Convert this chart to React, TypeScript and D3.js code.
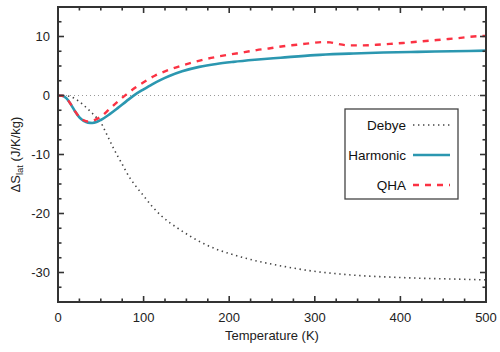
import React from "react";
import * as d3 from "d3";

// Temperature grids (K) and lattice entropy change (J/K/kg) for each model
const debyeT = [0, 5, 10, 15, 20, 25, 30, 35, 40, 45, 50, 55, 60, 65, 70, 75, 80, 85, 90, 100, 110, 120, 130, 140, 155, 170, 185, 205, 225, 245, 265, 285, 305, 325, 350, 375, 400, 430, 460, 500];
const debyeS = [0, 0, -0.05, -0.2, -0.55, -1.05, -1.65, -2.3, -3.0, -3.75, -4.55, -6.0, -7.5, -9.0, -10.35, -11.65, -13.0, -14.2, -15.2, -17.0, -18.8, -20.3, -21.5, -22.5, -23.9, -25.1, -26.05, -27.0, -27.8, -28.45, -29.0, -29.5, -29.9, -30.2, -30.5, -30.7, -30.85, -31.0, -31.1, -31.25];

const harmT = [0, 5, 10, 15, 20, 25, 30, 35, 40, 45, 50, 60, 70, 80, 90, 100, 110, 120, 130, 145, 165, 185, 205, 230, 260, 300, 340, 380, 420, 460, 500];
const harmS = [0, -0.05, -0.5, -1.5, -2.7, -3.7, -4.3, -4.6, -4.65, -4.5, -4.15, -3.2, -2.1, -0.95, 0.15, 1.05, 1.9, 2.65, 3.3, 4.1, 4.85, 5.35, 5.7, 6.05, 6.4, 6.85, 7.1, 7.3, 7.4, 7.5, 7.6];

const qhaT = [0, 5, 10, 15, 20, 25, 30, 35, 40, 45, 50, 60, 70, 80, 90, 100, 113, 127, 142, 156, 172, 187, 203, 218, 232, 248, 263, 279, 294, 310, 318, 325, 340, 357, 372, 388, 403, 419, 435, 450, 466, 481, 500];
const qhaS = [0, -0.05, -0.5, -1.5, -2.7, -3.65, -4.2, -4.4, -4.3, -4.0, -3.6, -2.3, -1.0, 0.2, 1.3, 2.25, 3.35, 4.2, 4.95, 5.55, 6.15, 6.6, 7.0, 7.35, 7.7, 8.0, 8.35, 8.6, 8.85, 9.05, 9.0, 8.8, 8.5, 8.5, 8.6, 8.75, 8.9, 9.1, 9.3, 9.5, 9.7, 9.95, 10.1];

const xMajor = [0, 100, 200, 300, 400, 500];
const yMajor = [-30, -20, -10, 0, 10];

const legendNames = ["Debye", "Harmonic", "QHA"];

const W = 500;
const H = 352;
const FONT = "'Liberation Sans', Arial, sans-serif";

const x = d3.scaleLinear().domain([0, 500]).range([58, 486]);
const y = d3.scaleLinear().domain([-35, 15]).range([302, 7]);

const line = d3
  .line<[number, number]>()
  .x((d) => x(d[0]))
  .y((d) => y(d[1]))
  .curve(d3.curveMonotoneX);

const zip = (a: number[], b: number[]) => a.map((t, i) => [t, b[i]] as [number, number]);

const styles = [
  { stroke: "#444", width: 1.6, dash: "1.4 3.6", cap: "butt" },
  { stroke: "#2b97b0", width: 2.6, dash: "", cap: "butt" },
  { stroke: "#fb3243", width: 2.4, dash: "6 6", cap: "butt" },
];

export default function App() {
  const series = [zip(debyeT, debyeS), zip(harmT, harmS), zip(qhaT, qhaS)];
  const xMinor = d3.range(0, 501, 25);
  const yMinor = d3.range(-35, 15.01, 2.5);
  const [x0, x1] = x.range();
  const [y0, y1] = y.range();
  const axisColor = "#333";

  return (
    <svg
      width={W}
      height={H}
      style={{ position: "absolute", left: 0, top: 0, background: "#fff" }}
      fontFamily={FONT}
    >
      {/* zero reference line */}
      <line x1={x0} x2={x1} y1={y(0)} y2={y(0)} stroke="#999" strokeWidth={1} strokeDasharray="1 3" />

      <defs>
        <clipPath id="plotArea">
          <rect x={x0} y={y1} width={x1 - x0} height={y0 - y1} />
        </clipPath>
      </defs>

      <g clipPath="url(#plotArea)">
        {series.map((s, i) => (
          <path
            key={i}
            d={line(s) ?? ""}
            fill="none"
            stroke={styles[i].stroke}
            strokeWidth={styles[i].width}
            strokeDasharray={styles[i].dash}
          />
        ))}
      </g>

      {/* ticks, all pointing inward on four sides */}
      {xMinor.map((t) => {
        const major = t % 100 === 0;
        const len = major ? 6 : 3.5;
        return (
          <g key={"xt" + t}>
            <line x1={x(t)} x2={x(t)} y1={y0} y2={y0 - len} stroke={axisColor} strokeWidth={1.6} />
            <line x1={x(t)} x2={x(t)} y1={y1} y2={y1 + len} stroke={axisColor} strokeWidth={1.6} />
          </g>
        );
      })}
      {yMinor.map((v) => {
        const major = Math.abs(v % 10) < 1e-6;
        const len = major ? 6 : 3.5;
        return (
          <g key={"yt" + v}>
            <line x1={x0} x2={x0 + len} y1={y(v)} y2={y(v)} stroke={axisColor} strokeWidth={1.6} />
            <line x1={x1} x2={x1 - len} y1={y(v)} y2={y(v)} stroke={axisColor} strokeWidth={1.6} />
          </g>
        );
      })}

      {/* frame */}
      <rect x={x0} y={y1} width={x1 - x0} height={y0 - y1} fill="none" stroke={axisColor} strokeWidth={2} />

      {/* tick labels */}
      {xMajor.map((t) => (
        <text key={"xl" + t} x={x(t)} y={322} textAnchor="middle" fontSize={13} fill="#222">
          {t}
        </text>
      ))}
      {yMajor.map((v) => (
        <text key={"yl" + v} x={50} y={y(v) + 4.5} textAnchor="end" fontSize={13} fill="#222">
          {v}
        </text>
      ))}

      {/* axis titles */}
      <text x={(x0 + x1) / 2} y={340} textAnchor="middle" fontSize={13} fill="#222">
        Temperature (K)
      </text>
      <text transform={`translate(20, ${(y0 + y1) / 2}) rotate(-90)`} textAnchor="middle" fontSize={13} fill="#222">
        ΔS
        <tspan fontSize={9.5} dy={3}>lat</tspan>
        <tspan dy={-3}> (J/K/kg)</tspan>
      </text>

      {/* legend */}
      <rect x={345} y={109} width={113} height={90} fill="#fff" stroke="#444" strokeWidth={1.3} />
      {legendNames.map((name, i) => {
        const ly = 125 + i * 30;
        return (
          <g key={name}>
            <text x={406} y={ly + 4.8} textAnchor="end" fontSize={13.5} fill="#111">
              {name}
            </text>
            <line
              x1={413}
              x2={450}
              y1={ly}
              y2={ly}
              stroke={styles[i].stroke}
              strokeWidth={styles[i].width}
              strokeDasharray={styles[i].dash}
            />
          </g>
        );
      })}
    </svg>
  );
}
